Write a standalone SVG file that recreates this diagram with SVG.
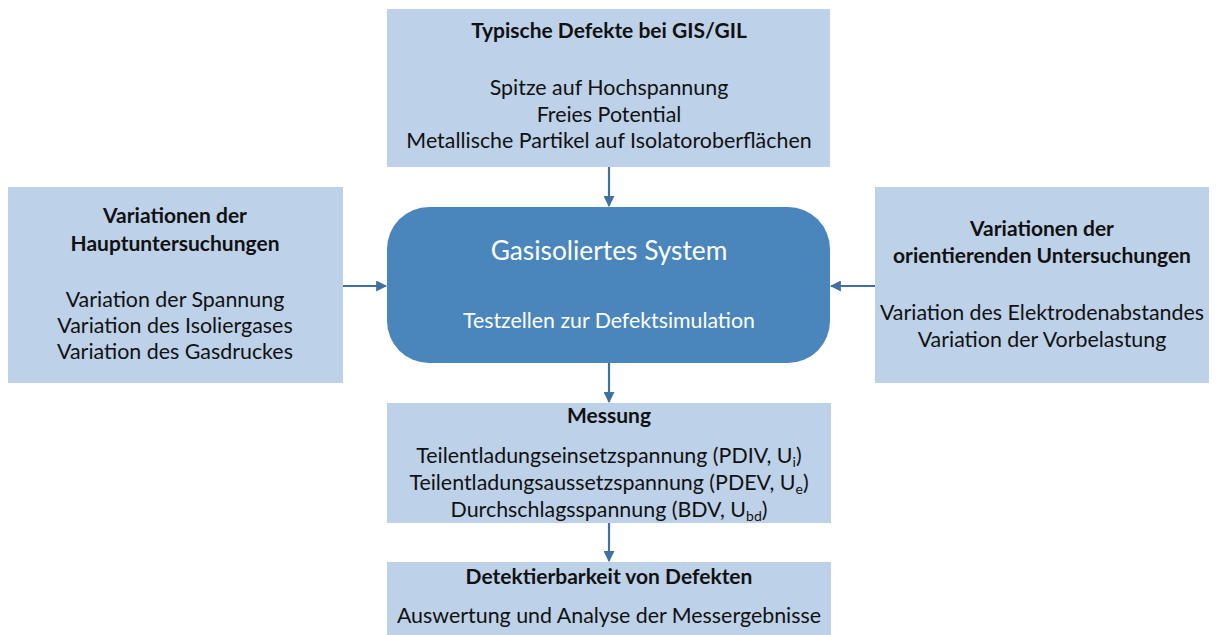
<svg xmlns="http://www.w3.org/2000/svg" width="1217" height="635" viewBox="0 0 1217 635">
<style>
.box{fill:#bdd1e9;}
.core{fill:#4a86bb;}
text{font-family:Lato,"Open Sans","Liberation Sans",sans-serif;fill:#111;text-anchor:middle;font-size:21.4px;}
.b{font-weight:bold;font-size:21px;}
.w{fill:#fff;}
.con{stroke:#41729f;stroke-width:2.2;fill:none;marker-end:url(#ah);}
</style>
<defs>
<marker id="ah" viewBox="0 0 10 10" refX="9" refY="5" markerWidth="5" markerHeight="5" orient="auto" markerUnits="strokeWidth">
<path d="M0,0 L10,5 L0,10 z" fill="#41729f"/>
</marker>
</defs>
<rect width="1217" height="635" fill="#fff"/>
<g id="connectors">
<line class="con" x1="609" y1="167" x2="609" y2="206"/>
<line class="con" x1="343" y1="286" x2="386" y2="286"/>
<line class="con" x1="875" y1="286" x2="831" y2="286"/>
<line class="con" x1="609" y1="363" x2="609" y2="402"/>
<line class="con" x1="609" y1="523" x2="609" y2="561"/>
</g>
<g id="top">
<rect class="box" x="387" y="9" width="443" height="158"/>
<text class="b" x="609" y="38">Typische Defekte bei GIS/GIL</text>
<text x="609" y="95">Spitze auf Hochspannung</text>
<text x="609" y="122">Freies Potential</text>
<text x="609" y="148">Metallische Partikel auf Isolatoroberflächen</text>
</g>
<g id="left">
<rect class="box" x="8" y="187" width="335" height="196"/>
<text class="b" x="175" y="223">Variationen der</text>
<text class="b" x="175" y="251">Hauptuntersuchungen</text>
<text x="175" y="307">Variation der Spannung</text>
<text x="175" y="333">Variation des Isoliergases</text>
<text x="175" y="359">Variation des Gasdruckes</text>
</g>
<g id="right">
<rect class="box" x="875" y="187" width="334" height="196"/>
<text class="b" x="1042" y="236">Variationen der</text>
<text class="b" x="1042" y="263">orientierenden Untersuchungen</text>
<text x="1042" y="320">Variation des Elektrodenabstandes</text>
<text x="1042" y="347">Variation der Vorbelastung</text>
</g>
<g id="center">
<rect class="core" x="387" y="207" width="443" height="156" rx="42" ry="42"/>
<text class="w" x="609" y="260" style="font-size:26.3px">Gasisoliertes System</text>
<text class="w" x="609" y="328" style="font-size:21.3px">Testzellen zur Defektsimulation</text>
</g>
<g id="messung">
<rect class="box" x="387" y="403" width="444" height="120"/>
<text class="b" x="609" y="423">Messung</text>
<text x="609" y="463">Teilentladungseinsetzspannung (PDIV, U<tspan font-size="14" dy="4">i</tspan><tspan dy="-4">)</tspan></text>
<text x="609" y="490">Teilentladungsaussetzspannung (PDEV, U<tspan font-size="14" dy="4">e</tspan><tspan dy="-4">)</tspan></text>
<text x="609" y="517">Durchschlagsspannung (BDV, U<tspan font-size="14" dy="4">bd</tspan><tspan dy="-4">)</tspan></text>
</g>
<g id="detekt">
<rect class="box" x="387" y="562" width="444" height="80"/>
<text class="b" x="609" y="584">Detektierbarkeit von Defekten</text>
<text x="609" y="623">Auswertung und Analyse der Messergebnisse</text>
</g>
</svg>
